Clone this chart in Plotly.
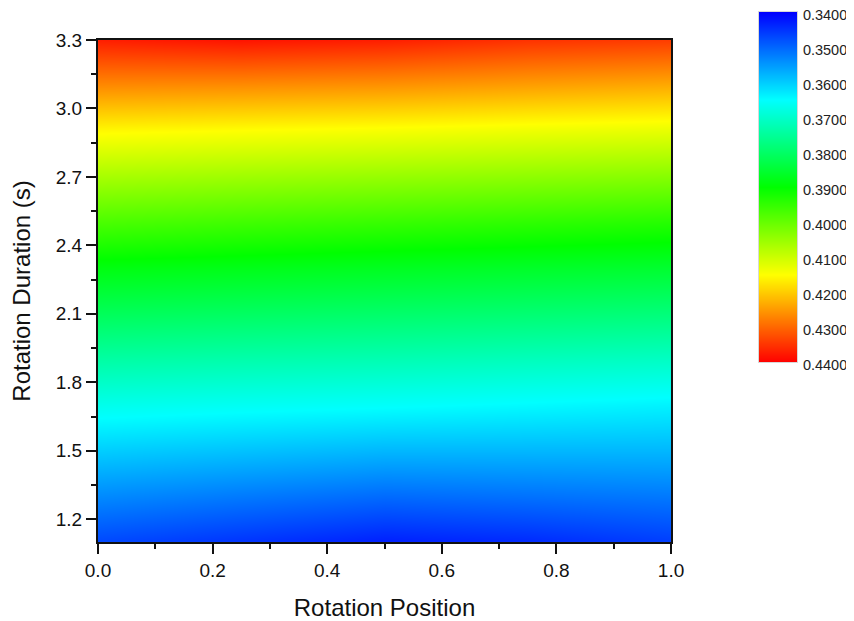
import plotly.graph_objects as go

# Data
rotation_position = [0.0, 0.25, 0.5, 0.75, 1.0]
rotation_duration = [1.1, 1.3, 1.5, 1.7, 1.9, 2.1, 2.3, 2.5, 2.7, 2.9, 3.1, 3.3]
# columns: x = 0, 0.25, 0.5, 0.75, 1.0 ; rows follow rotation_duration
col_x000 = [0.3470, 0.3536, 0.3601, 0.3669, 0.3740, 0.3812, 0.3884, 0.3971, 0.4063, 0.4155, 0.4263, 0.4370]
col_x025 = [0.3450, 0.3520, 0.3590, 0.3661, 0.3732, 0.3804, 0.3876, 0.3961, 0.4054, 0.4148, 0.4260, 0.4380]
col_x050 = [0.3430, 0.3505, 0.3579, 0.3654, 0.3725, 0.3796, 0.3868, 0.3952, 0.4046, 0.4141, 0.4254, 0.4370]
col_x075 = [0.3440, 0.3512, 0.3579, 0.3646, 0.3716, 0.3788, 0.3860, 0.3943, 0.4038, 0.4133, 0.4242, 0.4350]
col_x100 = [0.3460, 0.3519, 0.3579, 0.3638, 0.3708, 0.3780, 0.3853, 0.3934, 0.4030, 0.4126, 0.4231, 0.4340]

colorbar_levels = [0.34, 0.35, 0.36, 0.37, 0.38, 0.39, 0.40, 0.41, 0.42, 0.43, 0.44]

x_ticks = [0.0, 0.2, 0.4, 0.6, 0.8, 1.0]
y_ticks = [1.2, 1.5, 1.8, 2.1, 2.4, 2.7, 3.0, 3.3]

columns = [col_x000, col_x025, col_x050, col_x075, col_x100]
z = [[columns[c][r] for c in range(len(columns))] for r in range(len(rotation_duration))]

rainbow = [[0.0, "#0000ff"], [0.25, "#00ffff"], [0.5, "#00ff00"], [0.75, "#ffff00"], [1.0, "#ff0000"]]
ZMIN, ZMAX = 0.34, 0.44
FONT = "Liberation Sans, Arial, sans-serif"

fig = go.Figure()
fig.add_trace(go.Heatmap(
    x=rotation_position, y=rotation_duration, z=z,
    colorscale=rainbow, zmin=ZMIN, zmax=ZMAX, zsmooth="best",
    showscale=False, xaxis="x", yaxis="y", hoverinfo="skip",
))

# Colour bar drawn as its own heatmap so that 0.3400 sits on top
fig.add_trace(go.Heatmap(
    x=[0], y=colorbar_levels, z=[[v] for v in colorbar_levels],
    colorscale=rainbow, zmin=ZMIN, zmax=ZMAX, zsmooth="best",
    showscale=False, xaxis="x2", yaxis="y2", hoverinfo="skip",
))

axis_common = dict(
    showgrid=False, zeroline=False, showline=True, linecolor="#111111",
    linewidth=2, mirror=True, ticks="outside", ticklen=10, tickwidth=2,
    tickcolor="#111111", tickfont=dict(family=FONT, size=19, color="#111111"),
    automargin=False,
)

# the page body adds an 8px offset, so the figure is 8px smaller
fig.update_layout(
    width=846, height=613,
    margin=dict(l=90, r=4, t=4, b=79),
    paper_bgcolor="white", plot_bgcolor="white",
    font=dict(family=FONT, color="#111111"),
    xaxis=dict(
        **axis_common, domain=[0, 0.7620], range=[0, 1], anchor="y",
        tickvals=x_ticks, tickformat=".1f",
        minor=dict(dtick=0.1, tick0=0, ticklen=5, tickwidth=2, tickcolor="#111111", ticks="outside"),
        title=dict(text="Rotation Position", font=dict(family=FONT, size=24, color="#111111"), standoff=20),
    ),
    yaxis=dict(
        **axis_common, domain=[0, 0.9472], range=[1.1, 3.3001], anchor="x",
        tickvals=y_ticks, tickformat=".1f",
        minor=dict(dtick=0.15, tick0=0, ticklen=5, tickwidth=2, tickcolor="#111111", ticks="outside"),
        title=dict(text="Rotation Duration (s)", font=dict(family=FONT, size=24, color="#111111"), standoff=18),
    ),
    xaxis2=dict(domain=[0.8790, 0.9295], anchor="y2", range=[-0.5, 0.5], automargin=False,
                showticklabels=False, ticks="", showgrid=False, zeroline=False,
                showline=True, linecolor="#d8d8d8", linewidth=1, mirror=True),
    yaxis2=dict(domain=[0.3396, 1.0], anchor="x2", side="right", range=[0.44001, 0.33999], automargin=False,
                tickvals=colorbar_levels, tickformat=".4f", ticks="", showgrid=False,
                zeroline=False, showline=True, linecolor="#d8d8d8", linewidth=1, mirror=True,
                ticklabelstandoff=2, ticklabeloverflow="allow", ticklabelshift=-3,
                tickfont=dict(family=FONT, size=14.5, color="#222222")),
)

fig.write_html("out.html")
